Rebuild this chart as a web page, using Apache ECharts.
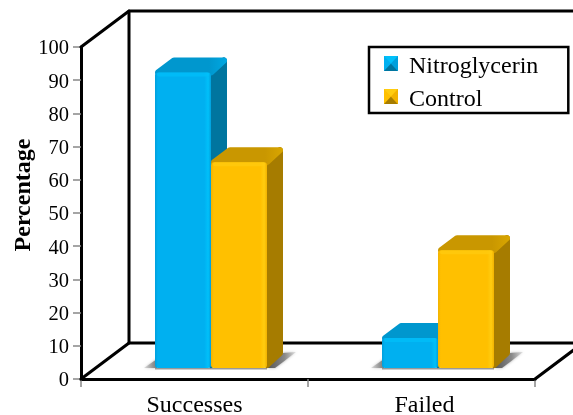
<!DOCTYPE html>
<html>
<head>
<meta charset="utf-8">
<style>html,body{margin:0;padding:0;background:#fff}#chart{width:573px;height:415px}</style>
<script src="https://cdn.jsdelivr.net/npm/echarts@6/dist/echarts.min.js"></script>
</head>
<body>
<div id="chart"></div>
<script>
// Outcome percentages per treatment group
const categories = ['Successes', 'Failed'];
const nitroglycerin = [89, 9];
const control = [62, 35.5];
const yTicks = { min: 0, max: 100, interval: 10 };

const FONT = '"Liberation Serif", "Times New Roman", serif';
const WALL = { dx: 48, dy: -36 };      // depth of the box
const SEAT = { dx: 0, dy: -11 };       // how far the bars stand in from the front edge
const BAR = { width: 56, dx: 16, dy: -15, round: 3 };

const BLUE = { front: '#00B0F0', edge: '#00C0FA', dark: '#009FDC', top: '#0097CE', topHi: '#00A8E2', side: '#00759F' };
const GOLD = { front: '#FFC000', edge: '#FFCC10', dark: '#F2B200', top: '#C99700', topHi: '#D9A600', side: '#A67C00' };

function bevelIcon(c) {
  const svg = '<svg xmlns="http://www.w3.org/2000/svg" width="14" height="15">' +
    '<rect width="14" height="15" fill="' + c.front + '"/>' +
    '<polygon points="0,0 14,0 7,7.5" fill="' + c.edge + '"/>' +
    '<polygon points="0,15 14,15 7,7.5" fill="' + c.side + '"/>' +
    '<polygon points="14,0 14,15 7,7.5" fill="' + c.dark + '"/></svg>';
  return 'image://data:image/svg+xml;charset=utf-8,' + encodeURIComponent(svg);
}

// Box walls and floor, worked out from the grid rectangle
function renderFrame(params, api) {
  const g = params.coordSys;
  const L = g.x, R = g.x + g.width, T = g.y, B = g.y + g.height;
  const bx = L + WALL.dx, by = B + WALL.dy, ty = T + WALL.dy, pageR = api.getWidth();
  const stroke = { stroke: '#000', lineWidth: 3, fill: null, lineCap: 'round', lineJoin: 'round' };
  const line = pts => ({ type: 'polyline', shape: { points: pts }, style: stroke });
  return {
    type: 'group',
    children: [
      line([[L, T], [bx, ty], [pageR, ty]]),
      line([[bx, ty], [bx, by], [pageR, by]]),
      line([[L, B], [bx, by]]),
      line([[R, B], [R + WALL.dx, B + WALL.dy]])
    ]
  };
}

// One bar: floor shadow, side face, top face, front face
function barRenderer(colors, offsetX, shadowSide) {
  return function (params, api) {
    const base = api.coord([api.value(0), 0]);
    const head = api.coord([api.value(0), api.value(1)]);
    const x0 = base[0] + offsetX + SEAT.dx, x1 = x0 + BAR.width;
    const yB = base[1] + SEAT.dy, yT = head[1] + SEAT.dy;
    const dx = BAR.dx, dy = BAR.dy, r = BAR.round;
    // Faces are inset and stroked with a round join so their corners come out soft
    const face = (pts, fill) => ({
      type: 'polygon',
      shape: { points: pts },
      style: { fill: fill, stroke: fill, lineWidth: r * 2, lineJoin: 'round' }
    });
    const shadow = shadowSide < 0
      ? { type: 'polygon',
          shape: { points: [[x0 - 11, yB], [x0 + 2, yB - 9], [x0 + 2, yB]] },
          style: { shadowBlur: 3, shadowColor: '#aaa', fill: new echarts.graphic.LinearGradient(1, 0, 0, 0, [
            { offset: 0, color: '#777' }, { offset: 1, color: 'rgba(170,170,170,0.35)' }]) } }
      : { type: 'polygon',
          shape: { points: [[x1, yB], [x1 + dx, yB + dy], [x1 + dx + 13, yB + dy - 1], [x1 + dx, yB - 6], [x1 + 8, yB]] },
          style: { shadowBlur: 3, shadowColor: '#aaa', fill: new echarts.graphic.LinearGradient(0, 0, 1, 0, [
            { offset: 0, color: '#555' }, { offset: 0.6, color: '#888' }, { offset: 1, color: 'rgba(190,190,190,0.4)' }]) } };
    return {
      type: 'group',
      children: [
        shadow,
        { type: 'rect', shape: { x: x0, y: yB, width: BAR.width, height: 1.5 }, style: { fill: '#999' } },
        face([[x1, yT + r], [x1 + dx - r, yT + dy + r], [x1 + dx - r, yB + dy], [x1, yB - r]], colors.side),
        face([[x0 + r, yT], [x0 + dx + r, yT + dy + r], [x1 + dx - r, yT + dy + r], [x1, yT]],
          new echarts.graphic.LinearGradient(0, 0, 1, 0, [
            { offset: 0, color: colors.top }, { offset: 0.75, color: colors.top }, { offset: 1, color: colors.topHi }])),
        { type: 'rect',
          shape: { x: x0, y: yT, width: BAR.width, height: yB - yT, r: r },
          style: { fill: new echarts.graphic.LinearGradient(0, 0, 1, 0, [
            { offset: 0, color: colors.dark }, { offset: 0.05, color: colors.front },
            { offset: 0.88, color: colors.front }, { offset: 0.95, color: colors.edge }, { offset: 1, color: colors.dark }]) } },
        { type: 'rect',
          shape: { x: x0 + 2, y: yT, width: BAR.width - 4, height: 4, r: 2 },
          style: { fill: colors.edge, opacity: 0.7 } }
      ]
    };
  };
}

const toPoints = values => values.map((v, i) => [i, v]);
const chart = echarts.init(document.getElementById('chart'));
chart.setOption({
  animation: false,
  backgroundColor: '#fff',
  grid: { left: 81, top: 47, width: 454, height: 332, containLabel: false, outerBoundsMode: 'none' },
  legend: {
    left: 369, top: 47, orient: 'vertical',
    padding: [8, 30, 1, 15], itemGap: 9, itemWidth: 14, itemHeight: 15,
    borderColor: '#000', borderWidth: 2.5, backgroundColor: '#fff',
    selectedMode: false,
    formatter: name => '{t|' + name + '}',
    textStyle: {
      fontFamily: FONT, fontSize: 24, color: '#000',
      rich: { t: { fontFamily: FONT, fontSize: 24, color: '#000', padding: [7, 0, 0, 6] } }
    },
    data: [
      { name: 'Nitroglycerin', icon: bevelIcon(BLUE) },
      { name: 'Control', icon: bevelIcon(GOLD) }
    ]
  },
  xAxis: {
    type: 'category', data: categories, boundaryGap: true,
    axisLine: { lineStyle: { color: '#000', width: 3 } },
    axisTick: { show: true, length: 8, lineStyle: { color: '#888', width: 1.5 } },
    axisLabel: {
      fontFamily: FONT, fontSize: 24, color: '#000', margin: 15,
      formatter: v => (v === 'Failed' ? '{nudged|' + v + '}' : v),
      rich: { nudged: { fontFamily: FONT, fontSize: 24, color: '#000', padding: [0, 0, 0, 6] } }
    },
    splitLine: { show: false }
  },
  yAxis: {
    type: 'value', min: yTicks.min, max: yTicks.max, interval: yTicks.interval,
    name: 'Percentage', nameLocation: 'middle', nameGap: 45, nameRotate: 90, nameMoveOverlap: false,
    nameTextStyle: { fontFamily: FONT, fontSize: 24, fontWeight: 'bold', color: '#000', padding: [0, 0, 0, 36] },
    axisLine: { show: true, lineStyle: { color: '#000', width: 3 } },
    axisTick: { show: true, length: 8, lineStyle: { color: '#888', width: 1.5 } },
    axisLabel: { fontFamily: FONT, fontSize: 20.5, color: '#000', margin: 12, verticalAlign: 'top', lineHeight: 4 },
    splitLine: { show: false }
  },
  series: [
    { type: 'custom', name: 'frame', z: 1, silent: true, clip: false,
      renderItem: renderFrame, data: [[0, 0]], encode: { x: 0, y: 1 } },
    { type: 'custom', name: 'Nitroglycerin', z: 2, clip: false,
      itemStyle: { color: BLUE.front },
      renderItem: barRenderer(BLUE, -39.5, -1), data: toPoints(nitroglycerin), encode: { x: 0, y: 1 } },
    { type: 'custom', name: 'Control', z: 3, clip: false,
      itemStyle: { color: GOLD.front },
      renderItem: barRenderer(GOLD, 16.5, 1), data: toPoints(control), encode: { x: 0, y: 1 } }
  ]
});
</script>
</body>
</html>
